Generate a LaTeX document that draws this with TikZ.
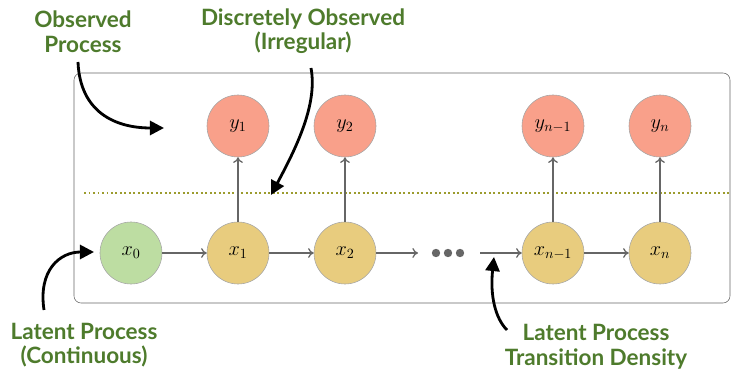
\documentclass[tikz,border=0pt]{standalone}
\usepackage{fontspec}
\newfontfamily\notefont{Lato}
\usetikzlibrary{arrows.meta}

\definecolor{obsred}{HTML}{F9A08A}
\definecolor{latyellow}{HTML}{E8CC7E}
\definecolor{initgreen}{HTML}{BDDDA2}
\definecolor{notegreen}{HTML}{4E7B2C}
\definecolor{edgegray}{HTML}{666666}
\definecolor{sepolive}{HTML}{9C9C2E}

\tikzset{
  var/.style={circle,draw=gray!70,minimum size=1.55cm,inner sep=0pt,font=\Large},
  obs/.style={var,fill=obsred},
  lat/.style={var,fill=latyellow},
  edge/.style={draw=edgegray,line width=0.9pt,-{To[length=4pt,width=7pt]}},
  note/.style={text=notegreen,font=\notefont\bfseries\fontsize{16}{17.5}\selectfont,align=center},
  pointer/.style={line width=2pt,-{Triangle[length=10pt,width=10pt]}}
}

\begin{document}
\begin{tikzpicture}[x=0.025cm,y=-0.025cm]
\useasboundingbox (0,0) rectangle (731,373);

\draw[edgegray,rounded corners=5pt] (74,73) rectangle (730,303);
\draw[sepolive,dotted,line width=1.2pt] (84,193) -- (731,193);

% latent chain
\node[var,fill=initgreen] at (131,253) (x0) {$x_0$};
\node[lat] at (238,253) (x1) {$x_1$};
\node[lat] at (345,253) (x2) {$x_2$};
\node[lat] at (553,253) (xn1) {$x_{n-1}$};
\node[lat] at (660,253) (xn) {$x_n$};

% observations
\node[obs] at (238,126) (y1) {$y_1$};
\node[obs] at (345,126) (y2) {$y_2$};
\node[obs] at (553,126) (yn1) {$y_{n-1}$};
\node[obs] at (660,126) (yn) {$y_n$};

\foreach \i in {436,448,460}
  \fill[edgegray] (\i,253) circle[radius=4.2];
\coordinate (dotsL) at (418,253);
\coordinate (dotsR) at (480,253);

\draw[edge] (x0) -- (x1);
\draw[edge] (x1) -- (x2);
\draw[edge] (x2) -- (dotsL);
\draw[edge] (dotsR) -- (xn1);
\draw[edge] (xn1) -- (xn);

\draw[edge] (x1) -- (y1);
\draw[edge] (x2) -- (y2);
\draw[edge] (xn1) -- (yn1);
\draw[edge] (xn) -- (yn);

% annotations
\node[note] at (83,32) (nObs) {Observed\\Process};
\node[note] at (303,31) (nDisc) {Discretely Observed\\(Irregular)};
\node[note] at (84,345) (nLat) {Latent Process\\(Continuous)};
\node[note] at (596,347) (nTrans) {Latent Process\\Transition Density};

\coordinate (pObs) at (164,128);
\coordinate (pDisc) at (271,195);
\coordinate (pLat) at (94,252);
\coordinate (pTrans) at (494,257);

\draw[pointer] (78,62) .. controls (80,112) and (115,128) .. (pObs);
\draw[pointer] (311,68) .. controls (318,105) and (295,150) .. (pDisc);
\draw[pointer] (44,310) .. controls (38,270) and (60,252) .. (pLat);
\draw[pointer] (507,330) .. controls (495,318) and (490,295) .. (pTrans);
\end{tikzpicture}
\end{document}
